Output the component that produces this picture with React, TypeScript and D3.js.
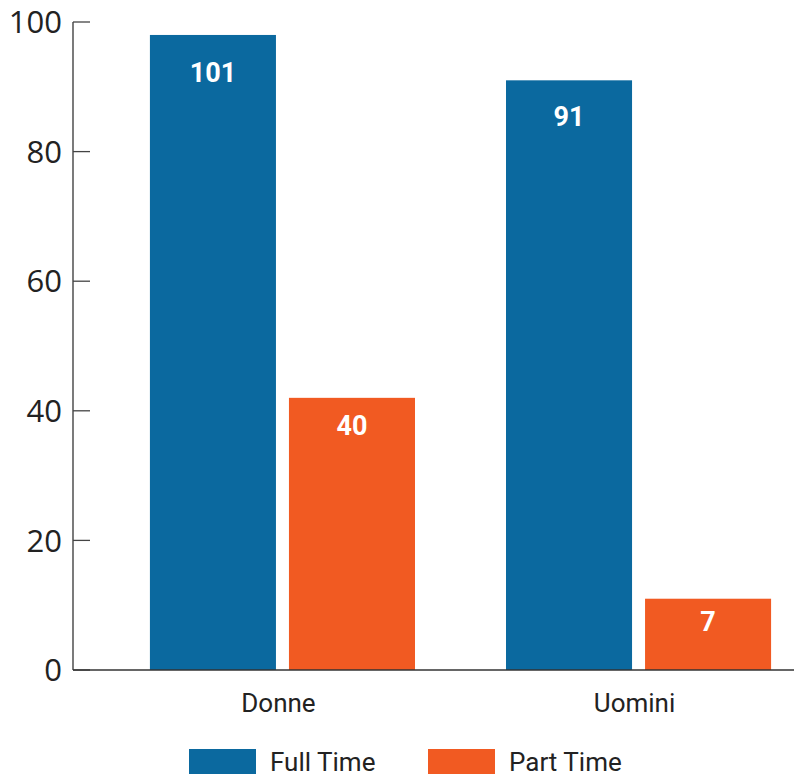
import * as d3 from "d3";

const categories = ["Donne", "Uomini"];
const series = ["Full Time", "Part Time"];
// bar heights as drawn, and the labels printed on them
const fullTime = [98, 91];
const partTime = [42, 11];
const fullLabels = ["101", "91"];
const partLabels = ["40", "7"];
const yTicks = [0, 20, 40, 60, 80, 100];

const colors = ["#0b699f", "#f15a22"];

const W = 794;
const H = 774;

const App = () => {
  const x0 = d3
    .scaleBand()
    .domain(categories)
    .range([73, 848])
    .paddingInner(0.2556)
    .paddingOuter(0.216);

  const x1 = d3
    .scaleBand()
    .domain(series)
    .range([0, x0.bandwidth()])
    .paddingInner(0.0935);

  const y = d3.scaleLinear().domain([0, 100]).range([670, 22]);

  const values = [fullTime, partTime];
  const labels = [fullLabels, partLabels];

  const bars = categories.flatMap((c, ci) =>
    series.map((s, si) => ({
      cat: c,
      series: s,
      value: values[si][ci],
      label: labels[si][ci],
      color: colors[si],
    }))
  );

  return (
    <svg
      width={W}
      height={H}
      style={{ position: "absolute", left: 0, top: 0, background: "#fff" }}
    >
      {bars.map((b) => {
        const bx = (x0(b.cat) ?? 0) + (x1(b.series) ?? 0);
        // label sits a bit deeper inside taller bars
        const off = 30 + 0.17 * b.value;
        return (
          <g key={b.cat + b.series}>
            <rect
              x={bx}
              y={y(b.value)}
              width={x1.bandwidth()}
              height={y(0) - y(b.value)}
              fill={b.color}
            />
            <text
              x={bx + x1.bandwidth() / 2}
              y={y(b.value) + off}
              textAnchor="middle"
              fill="#fff"
              fontFamily="Roboto"
              fontWeight="bold"
              fontSize={27}
            >
              {b.label}
            </text>
          </g>
        );
      })}

      {/* y axis */}
      <line x1={73} x2={73} y1={y(100)} y2={y(0)} stroke="#333" strokeWidth={1.3} />
      {yTicks.map((t) => (
        <g key={t}>
          <line x1={73} x2={90} y1={y(t)} y2={y(t)} stroke="#444" strokeWidth={1.3} />
          <text
            x={62}
            y={y(t)}
            dy="0.36em"
            textAnchor="end"
            fill="#222"
            fontFamily="Open Sans"
            fontSize={31}
          >
            {t}
          </text>
        </g>
      ))}

      {/* x axis */}
      <line x1={73} x2={W} y1={y(0)} y2={y(0)} stroke="#333" strokeWidth={1.3} />
      {categories.map((c) => (
        <text
          key={c}
          x={(x0(c) ?? 0) + x0.bandwidth() / 2 - 4}
          y={712}
          textAnchor="middle"
          fill="#222"
          fontFamily="Roboto"
          fontSize={26}
        >
          {c}
        </text>
      ))}

      {/* legend */}
      {series.map((s, i) => {
        const lx = [189, 428][i];
        return (
          <g key={s}>
            <rect x={lx} y={749} width={67} height={26} fill={colors[i]} />
            <text
              x={lx + 81}
              y={771}
              fill="#222"
              fontFamily="Roboto"
              fontSize={26}
            >
              {s}
            </text>
          </g>
        );
      })}
    </svg>
  );
};

export default App;
